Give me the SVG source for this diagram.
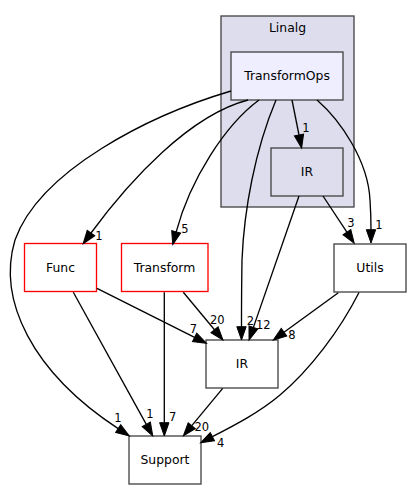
<svg xmlns="http://www.w3.org/2000/svg" width="411" height="489" viewBox="0 0 411 489">
<defs>
<style>
text{font-family:"DejaVu Sans","Liberation Sans",sans-serif;fill:#000}
.nl{font-size:12.4px;text-anchor:middle}
.el{font-size:11.5px;text-anchor:middle}
.box{fill:#fff;stroke:#444;stroke-width:1.33}
.red{fill:#fff;stroke:#ff0000;stroke-width:1.33}
.edge path{fill:none;stroke:#000;stroke-width:1.33;marker-end:url(#ah)}
</style>
<marker id="ah" markerUnits="userSpaceOnUse" markerWidth="15" markerHeight="12" refX="0" refY="6" orient="auto" overflow="visible">
<path d="M0,1.33 L13.3,6 L0,10.67 z" fill="#000" stroke="#000" stroke-width="1"/>
</marker>
</defs>
<rect width="411" height="489" fill="#fff"/>
<g id="cluster_Linalg">
<rect x="221" y="16" width="133" height="191" fill="#ddddee" stroke="#444" stroke-width="1.33"/>
<text class="nl" x="287.5" y="32">Linalg</text>
</g>
<g id="node_TransformOps">
<rect x="231" y="52" width="112" height="48" fill="#eeeeff" stroke="#444" stroke-width="1.33"/>
<text class="nl" x="287" y="80">TransformOps</text>
</g>
<g id="node_LinalgIR">
<rect x="271" y="148" width="72" height="48" fill="#ddddee" stroke="#444" stroke-width="1.33"/>
<text class="nl" x="307" y="176">IR</text>
</g>
<g id="node_Func">
<rect class="red" x="24.5" y="243.5" width="72" height="48"/>
<text class="nl" x="60.5" y="271.5">Func</text>
</g>
<g id="node_Transform">
<rect class="red" x="121.5" y="243.5" width="86.5" height="48"/>
<text class="nl" x="164.5" y="271.5">Transform</text>
</g>
<g id="node_Utils">
<rect class="box" x="334" y="244" width="72" height="48"/>
<text class="nl" x="370" y="272">Utils</text>
</g>
<g id="node_IR">
<rect class="box" x="206" y="340" width="72" height="48"/>
<text class="nl" x="242" y="368">IR</text>
</g>
<g id="node_Support">
<rect class="box" x="129" y="436" width="72" height="48"/>
<text class="nl" x="165" y="464">Support</text>
</g>
<g id="edges" class="edge">
<path d="M231,91 C150,115 40,170 15,240 C-3,300 32,372 118.2,428.6"/>
<text class="el" x="118" y="422">1</text>
<path d="M248,100 C190,115 130,180 91,233"/>
<text class="el" x="99" y="240">1</text>
<path d="M259,100 C225,125 190,180 176.2,231.8"/>
<text class="el" x="185" y="233.3">5</text>
<path d="M276,100 C255,150 244,210 242,260 C241.5,290 241.5,310 241.5,326.7"/>
<text class="el" x="250.3" y="325">2</text>
<path d="M292,100 L299,135"/>
<text class="el" x="306" y="131.7">1</text>
<path d="M317,100 C340,120 368,160 370,200 C371,215 371,222 371,229.7"/>
<text class="el" x="379" y="229.3">1</text>
<path d="M323,196 L346.9,232.2"/>
<text class="el" x="351" y="227">3</text>
<path d="M299,196 L253.4,327.4"/>
<text class="el" x="263.3" y="329">12</text>
<path d="M97,288.3 L194.6,337.3"/>
<text class="el" x="193.3" y="333">7</text>
<path d="M73.3,292.3 L146.3,424.4"/>
<text class="el" x="150" y="418.3">1</text>
<path d="M183.3,292.3 L214.5,329.8"/>
<text class="el" x="217.3" y="324.3">20</text>
<path d="M164.3,292.3 L164.3,422.7"/>
<text class="el" x="172.7" y="420.7">7</text>
<path d="M338.3,292.7 L284,332.2"/>
<text class="el" x="292" y="339.3">8</text>
<path d="M359,292.5 C340,330 310,370 280,395 C260,412 235,425 212.4,436.7"/>
<text class="el" x="220.7" y="446.7">4</text>
<path d="M222.7,388.3 L191.8,425.7"/>
<text class="el" x="201.7" y="431">20</text>
</g>
</svg>
